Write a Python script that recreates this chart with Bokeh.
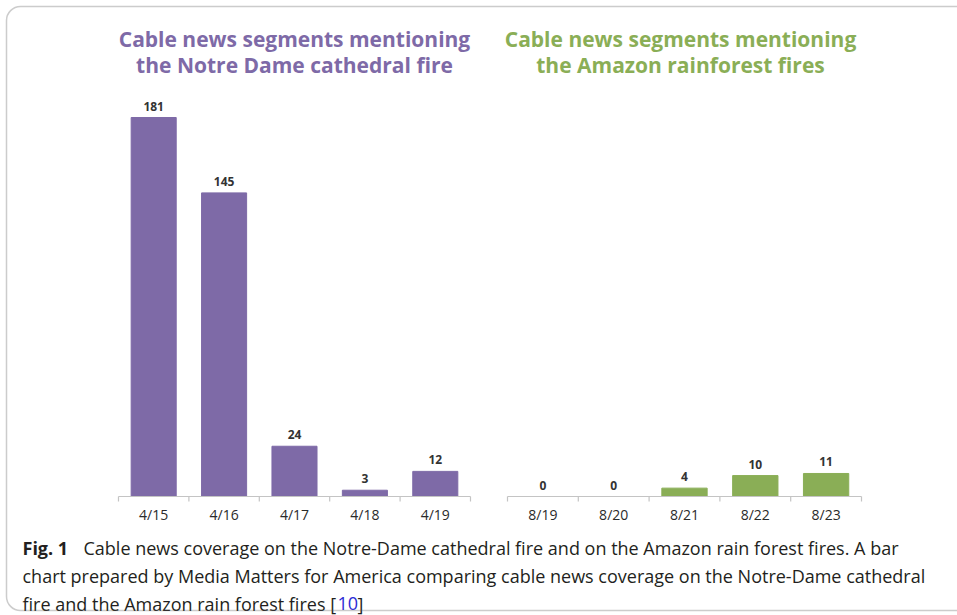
from bokeh.plotting import figure
from bokeh.models import Range1d, BoxAnnotation
from bokeh.core.properties import value
from bokeh.embed import file_html
from bokeh.resources import INLINE

# ---- data ----
notre_dates = ["4/15", "4/16", "4/17", "4/18", "4/19"]
notre_counts = [181, 145, 24, 3, 12]
amazon_dates = ["8/19", "8/20", "8/21", "8/22", "8/23"]
amazon_counts = [0, 0, 4, 10, 11]

notre_title = "Cable news segments mentioning\nthe Notre Dame cathedral fire"
amazon_title = "Cable news segments mentioning\nthe Amazon rainforest fires"
cap_bold = "Fig. 1"
cap_l1 = "Cable news coverage on the Notre-Dame cathedral fire and on the Amazon rain forest fires. A bar"
cap_l2 = "chart prepared by Media Matters for America comparing cable news coverage on the Notre-Dame cathedral"
cap_l3 = "fire and the Amazon rain forest fires ["
cap_ref = "10"
cap_end = "]"

PURPLE = "#7e6aa7"
GREEN = "#8aae56"
W, H = 957, 615

p = figure(width=W, height=H, x_range=Range1d(0, W), y_range=Range1d(H, 0),
           x_axis_type=None, y_axis_type=None, min_border=0,
           toolbar_location=None, output_backend="svg")
p.grid.visible = False
p.outline_line_color = None
p.background_fill_color = "white"

# value scale shared by both panels: 0 -> px 496, 181 -> px 117
p.extra_y_ranges = {"v": Range1d(-56.83, 236.88)}
# category scales (index units, 70.4 / 70.8 px per category)
p.extra_x_ranges = {"L": Range1d(-2.176, -2.176 + W / 70.4),
                    "R": Range1d(-7.661, -7.661 + W / 70.8)}

FONT_LBL = value("Open Sans")
tick_len = 5 * (236.88 + 56.83) / H

def panel(rng, dates, counts, color, title, title_dx):
    idx = list(range(len(dates)))
    n = len(dates)
    p.vbar(x=idx, top=counts, bottom=0, width=0.64, color=color,
           x_range_name=rng, y_range_name="v")
    # baseline and boundary ticks
    p.segment(x0=[-0.5], y0=[0], x1=[n - 0.5], y1=[0], line_color="#c4c4c4",
              line_width=1.2, x_range_name=rng, y_range_name="v")
    bnd = [i - 0.5 for i in range(n + 1)]
    p.segment(x0=bnd, y0=[0] * len(bnd), x1=bnd, y1=[-tick_len] * len(bnd),
              line_color="#c4c4c4", line_width=1.2, x_range_name=rng, y_range_name="v")
    # value labels
    p.text(x=idx, y=counts, text=[str(c) for c in counts], text_align="center",
           text_baseline="bottom", y_offset=-7, text_font=FONT_LBL,
           text_font_size="12px", text_font_style="bold", text_color="#333333",
           x_range_name=rng, y_range_name="v")
    # category labels
    p.text(x=idx, y=[0] * n, text=dates, text_align="center", text_baseline="top",
           y_offset=8, text_font=FONT_LBL, text_font_size="14px",
           text_color="#2a2a2a", x_range_name=rng, y_range_name="v")
    # title centred over the panel
    p.text(x=[(n - 1) / 2], y=[24], text=[title], text_align="center",
           text_baseline="top", x_offset=title_dx, text_font=value("Open Sans"),
           text_font_size="21px", text_font_style="bold", text_color=color,
           text_line_height=0.95, x_range_name=rng)

panel("L", notre_dates, notre_counts, PURPLE, notre_title, 0)
panel("R", amazon_dates, amazon_counts, GREEN, amazon_title, -4)

# caption
CAP_FONT = value("Open Sans")
CAP_SIZE = "18px"
CAP_COLOR = "#231f20"
p.text(x=[22], y=[547], text=[cap_bold], text_font=CAP_FONT, text_font_size=CAP_SIZE,
       text_font_style="bold", text_color=CAP_COLOR, text_baseline="alphabetic")
p.text(x=[83, 22, 22], y=[547, 575, 603], text=[cap_l1, cap_l2, cap_l3],
       text_font=CAP_FONT, text_font_size=CAP_SIZE, text_color=CAP_COLOR,
       text_baseline="alphabetic")
p.text(x=[337], y=[603], text=[cap_ref], text_font=CAP_FONT, text_font_size=CAP_SIZE,
       text_color="#2b2bd6", text_baseline="alphabetic")
p.text(x=[357], y=[603], text=[cap_end], text_font=CAP_FONT, text_font_size=CAP_SIZE,
       text_color=CAP_COLOR, text_baseline="alphabetic")

# rounded frame around the figure
p.add_layout(BoxAnnotation(left=6, right=990, top=6, bottom=610, fill_alpha=0,
                           line_color="#555555", line_width=1.5, border_radius=14))

open("out.html", "w").write(file_html(p, INLINE))
